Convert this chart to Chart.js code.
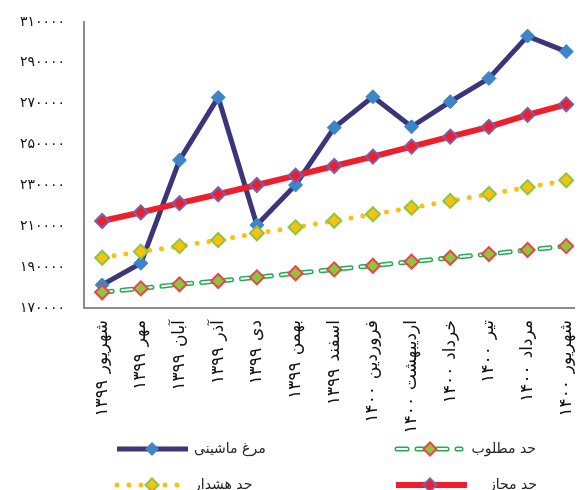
<!DOCTYPE html>
<html>
<head>
<meta charset="utf-8">
<script src="https://cdn.jsdelivr.net/npm/chart.js@4.4.0/dist/chart.umd.min.js"></script>
<style>
  html, body { margin: 0; padding: 0; background: #fff; }
  #wrap { width: 583px; height: 490px; }
</style>
</head>
<body>
<div id="wrap"><canvas id="chart" width="583" height="490"></canvas></div>
<script>
// ماه‌ها
const months = [
  "شهریور ۱۳۹۹", "مهر ۱۳۹۹", "آبان ۱۳۹۹", "آذر ۱۳۹۹", "دی ۱۳۹۹",
  "بهمن ۱۳۹۹", "اسفند ۱۳۹۹", "فروردین ۱۴۰۰", "اردیبهشت ۱۴۰۰",
  "خرداد ۱۴۰۰", "تیر ۱۴۰۰", "مرداد ۱۴۰۰", "شهریور ۱۴۰۰"
];

const seriesNames = ["مرغ ماشینی", "حد مطلوب", "حد هشدار", "حد مجاز"];

const broiler = [181300, 191900, 242400, 273100, 210600, 230200, 258300,
  273400, 258700, 271000, 282400, 303100, 295500];
const desired = [177700, 179600, 181600, 183200, 185000, 187000, 188900,
  190700, 192700, 194600, 196400, 198400, 200300];
const warning = [194600, 197600, 200300, 203300, 206600, 209500, 212700,
  215900, 219100, 222400, 225800, 229100, 232500];
const allowed = [212600, 216800, 221300, 225700, 230200, 234800, 239500,
  244100, 249000, 253900, 258700, 264500, 269700];

const yTicks = [170000, 190000, 210000, 230000, 250000, 270000, 290000, 310000];

// ارقام فارسی
function toFa(v) {
  return String(v).replace(/\d/g, (d) => "۰۱۲۳۴۵۶۷۸۹"[d]);
}

function points(arr) {
  return arr.map((v, i) => ({ x: i, y: v }));
}

const FONT = "'DejaVu Sans', sans-serif";

const dsBroiler = {
  label: seriesNames[0],
  data: points(broiler),
  borderColor: "#3b3679",
  borderWidth: 5,
  pointStyle: "rectRot",
  pointRadius: 7,
  pointBackgroundColor: "#3d85c6",
  pointBorderColor: "#3d85c6",
  pointBorderWidth: 1,
  order: 4,
};
const dsDesiredBase = {
  label: seriesNames[1],
  data: points(desired),
  borderColor: "#1fae4b",
  borderWidth: 5,
  borderDash: [10, 10],
  borderCapStyle: "round",
  pointRadius: 0,
  order: 3,
};
const dsDesired = {
  label: seriesNames[1],
  data: points(desired),
  borderColor: "#ffffff",
  borderWidth: 2,
  borderDash: [10, 10],
  borderCapStyle: "round",
  pointStyle: "rectRot",
  pointRadius: 7,
  pointBackgroundColor: "#8cc63f",
  pointBorderColor: "#e8454a",
  pointBorderWidth: 2,
  order: 2,
};
const dsWarning = {
  label: seriesNames[2],
  data: points(warning),
  borderColor: "#fdc010",
  borderWidth: 5,
  borderDash: [0, 12],
  borderCapStyle: "round",
  pointStyle: "rectRot",
  pointRadius: 7,
  pointBackgroundColor: "#fdc010",
  pointBorderColor: "#8cc63f",
  pointBorderWidth: 2,
  order: 1,
};
const dsAllowed = {
  label: seriesNames[3],
  data: points(allowed),
  borderColor: "#ee1f2d",
  borderWidth: 6,
  pointStyle: "rectRot",
  pointRadius: 7,
  pointBackgroundColor: "#ee1f2d",
  pointBorderColor: "#7e5fa8",
  pointBorderWidth: 2,
  order: 0,
};

function diamond(ctx, x, y, r, fill, stroke, lw) {
  ctx.beginPath();
  ctx.moveTo(x - r, y);
  ctx.lineTo(x, y - r);
  ctx.lineTo(x + r, y);
  ctx.lineTo(x, y + r);
  ctx.closePath();
  ctx.fillStyle = fill;
  ctx.fill();
  ctx.lineWidth = lw;
  ctx.strokeStyle = stroke;
  ctx.setLineDash([]);
  ctx.stroke();
}

function strokeSample(ctx, ds, x0, x1, y) {
  ctx.save();
  ctx.beginPath();
  ctx.moveTo(x0, y);
  ctx.lineTo(x1, y);
  ctx.lineWidth = ds.borderWidth;
  ctx.strokeStyle = ds.borderColor;
  ctx.lineCap = ds.borderCapStyle || "butt";
  ctx.setLineDash(ds.borderDash || []);
  ctx.stroke();
  ctx.restore();
}

// فاصله بین حروف برچسب‌های محور
function spacedLabels(axis, px) {
  if (axis._spaced) return;
  const orig = axis.drawLabels.bind(axis);
  axis.drawLabels = (area) => {
    const c = axis.ctx;
    c.save();
    c.letterSpacing = px + "px";
    orig(area);
    c.restore();
  };
  axis._spaced = true;
}

// راهنمای پایین نمودار
const legendPlugin = {
  id: "bottomLegend",
  afterDraw(chart) {
    const ctx = chart.ctx;
    const items = [
      { line: [dsBroiler], ds: dsBroiler, x0: 117, x1: 188, mx: 152, y: 449, tx: 194, align: "left" },
      { line: [dsDesiredBase, dsDesired], ds: dsDesired, x0: 397, x1: 461, mx: 430, y: 449, tx: 536, align: "right" },
      { line: [dsWarning], ds: dsWarning, x0: 117, x1: 184, mx: 152, y: 485, tx: 194, align: "left" },
      { line: [dsAllowed], ds: dsAllowed, x0: 396, x1: 467, mx: 430, y: 485, tx: 537, align: "right" },
    ];
    items.forEach((it) => {
      it.line.forEach((d) => strokeSample(ctx, d, it.x0, it.x1, it.y));
      diamond(ctx, it.mx, it.y, 6.5, it.ds.pointBackgroundColor, it.ds.pointBorderColor, it.ds.pointBorderWidth);
      ctx.save();
      ctx.font = "14px " + FONT;
      ctx.fillStyle = "#222";
      ctx.textAlign = it.align;
      ctx.textBaseline = "middle";
      ctx.fillText(it.ds.label, it.tx, it.y);
      ctx.restore();
    });
  },
};

new Chart(document.getElementById("chart"), {
  type: "line",
  data: {
    datasets: [dsBroiler, dsDesiredBase, dsDesired, dsWarning, dsAllowed],
  },
  options: {
    responsive: false,
    animation: false,
    layout: { padding: { top: 22, right: 8, left: 0, bottom: 0 } },
    elements: { line: { tension: 0 } },
    plugins: {
      legend: { display: false },
      tooltip: { enabled: false },
    },
    scales: {
      x: {
        type: "linear",
        min: -0.47,
        max: 12.2,
        afterBuildTicks: (axis) => {
          axis.ticks = months.map((_, i) => ({ value: i }));
        },
        afterFit: (axis) => {
          axis.height = 182;
          axis.paddingLeft = 0;
          axis.paddingRight = 0;
          spacedLabels(axis, 1.5);
        },
        ticks: {
          callback: (v) => months[v],
          autoSkip: false,
          minRotation: 90,
          maxRotation: 90,
          padding: 12,
          color: "#111",
          font: { size: 17, family: FONT },
        },
        grid: { display: false, drawTicks: false },
        border: { color: "#8c8c8c", width: 2 },
      },
      y: {
        min: yTicks[0],
        max: yTicks[yTicks.length - 1],
        afterBuildTicks: (axis) => {
          axis.ticks = yTicks.map((v) => ({ value: v }));
        },
        afterFit: (axis) => {
          axis.width = 84;
          axis.paddingTop = 0;
          axis.paddingBottom = 0;
          spacedLabels(axis, 2);
        },
        ticks: {
          callback: (v) => toFa(v),
          padding: 19,
          color: "#111",
          font: { size: 14, family: FONT },
        },
        grid: { display: false, drawTicks: false },
        border: { color: "#8c8c8c", width: 2 },
      },
    },
  },
  plugins: [legendPlugin],
});
</script>
</body>
</html>
